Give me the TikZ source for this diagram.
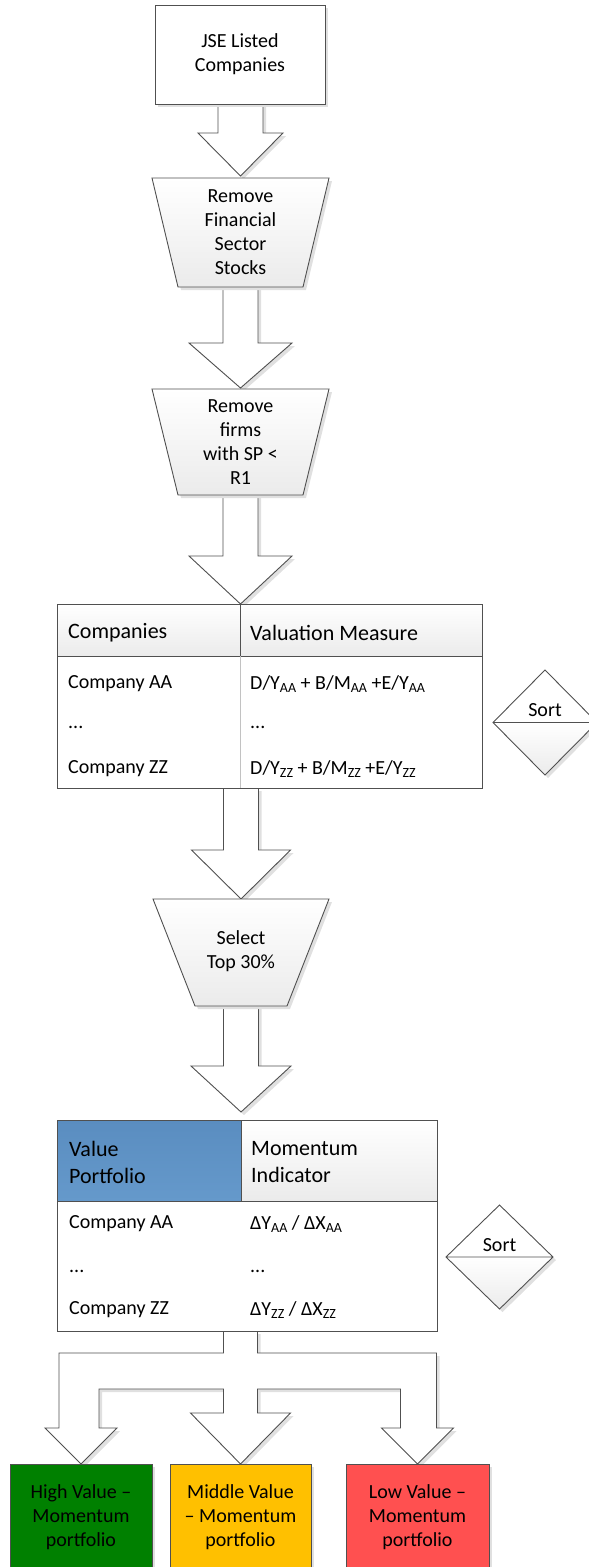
\documentclass[tikz,border=0pt]{standalone}
\usepackage{fontspec}
\setmainfont{Carlito}
\usetikzlibrary{calc,shadows,backgrounds}

\definecolor{edge}{HTML}{505050}
\definecolor{greyend}{HTML}{EBEBEB}
\definecolor{hdrblueA}{HTML}{5A8DC0}
\definecolor{hdrblueB}{HTML}{6599CB}
\definecolor{hvgreen}{HTML}{008000}
\definecolor{mvyellow}{HTML}{FFC000}
\definecolor{lvred}{HTML}{FF5050}

% lowered small index, as in D/Y_AA
\newcommand\lowsub[1]{\raisebox{-0.35ex}{\fontsize{14}{14}\selectfont #1}}

\tikzset{
  softshadow/.style={drop shadow={shadow xshift=3pt, shadow yshift=-3pt, fill=black!12, opacity=1}},
  outline/.style={draw=edge, line width=0.9pt, line join=miter},
  blockarrow/.style={outline, fill=white, softshadow},
  holder/.style={inner sep=0pt, outer sep=0pt},
  bodytext/.style={font=\fontsize{20}{24}\selectfont, align=center, inner sep=0pt},
  headtext/.style={font=\fontsize{22}{27}\selectfont, align=left, inner sep=0pt, anchor=west},
  rowtext/.style={font=\fontsize{20}{24}\selectfont, inner sep=0pt, anchor=west},
  dotstext/.style={font=\fontsize{20}{24}\selectfont, inner sep=0pt, anchor=base west},
  trapshape/.style={outline, top color=white, bottom color=greyend, softshadow},
  gradcell/.style={outline, top color=white, bottom color=greyend},
  portbox/.style={outline, softshadow, bodytext, minimum height=106pt, anchor=north},
}

% hollow block arrow: from (#1) down to the tip (#2);
% #3 shaft half width, #4 head half width, #5 head length
\newcommand\blockarrow[5]{%
  \path[blockarrow] let \p1=(#1), \p2=(#2) in
    (\x2-#3,\y1) -- (\x2-#3,\y2+#5) -- (\x2-#4,\y2+#5) -- (\x2,\y2)
    -- (\x2+#4,\y2+#5) -- (\x2+#3,\y2+#5) -- (\x2+#3,\y1);}

\begin{document}
\begin{tikzpicture}[x=1pt,y=-1pt]
\useasboundingbox (0,0) rectangle (589,1567);
\clip (0,0) rectangle (589,1567);

% ---- source box
\node[holder, outline, fill=white, softshadow, bodytext,
      minimum width=170pt, minimum height=99pt] (jse) at (240,54.5) {JSE Listed\\Companies};

% ---- filter trapezia
\node[holder, minimum width=177pt, minimum height=109pt] (trap1) at (240.5,232.5) {};
\node[holder, minimum width=177pt, minimum height=106pt] (trap2) at (240.5,442) {};
\node[holder, minimum width=176pt, minimum height=107pt] (trap3) at (241,952.5) {};
\path[trapshape] (trap1.north west) -- (trap1.north east) -- ([xshift=-26pt]trap1.south east)
  -- ([xshift=26pt]trap1.south west) -- cycle;
\path[trapshape] (trap2.north west) -- (trap2.north east) -- ([xshift=-26pt]trap2.south east)
  -- ([xshift=26pt]trap2.south west) -- cycle;
\path[trapshape] (trap3.north west) -- (trap3.north east) -- ([xshift=-42pt]trap3.south east)
  -- ([xshift=42pt]trap3.south west) -- cycle;
\node[bodytext] (trap1txt) at (trap1.center) {Remove\\Financial\\Sector\\Stocks};
\node[bodytext] (trap2txt) at (trap2.center) {Remove\\firms\\with SP <\\R1};
\node[bodytext] (trap3txt) at ([yshift=1pt]trap3.center) {Select\\Top 30\%};

% ---- valuation table
\node[holder, outline, fill=white, minimum width=425pt, minimum height=184pt] (tab1) at (269.5,696) {};
\node[holder, gradcell, minimum width=183pt, minimum height=52pt, anchor=north west] (t1hl) at (tab1.north west) {};
\node[holder, gradcell, minimum width=242pt, minimum height=52pt, anchor=north east] (t1hr) at (tab1.north east) {};
\draw[edge!35, line width=0.6pt] (t1hl.south east) -- (t1hl.south east |- tab1.south);
\node[headtext] (t1c) at (68,633) {Companies};
\node[headtext] (t1v) at (250,633) {Valuation Measure};
\node[rowtext] (t1r1a) at (68,684) {Company AA};
\node[rowtext] (t1r1b) at (250,684) {D/Y\lowsub{AA} + B/M\lowsub{AA} +E/Y\lowsub{AA}};
\node[dotstext] (t1r2a) at (68,728) {...};
\node[dotstext] (t1r2b) at (250,728) {...};
\node[rowtext] (t1r3a) at (68,769) {Company ZZ};
\node[rowtext] (t1r3b) at (250,769) {D/Y\lowsub{ZZ} + B/M\lowsub{ZZ} +E/Y\lowsub{ZZ}};

% ---- momentum table
\node[holder, outline, fill=white, minimum width=380pt, minimum height=211pt] (tab2) at (247,1225.5) {};
\node[holder, outline, top color=hdrblueA, bottom color=hdrblueB, minimum width=184pt,
      minimum height=81pt, anchor=north west] (t2hl) at (tab2.north west) {};
\node[holder, gradcell, minimum width=196pt, minimum height=81pt, anchor=north east] (t2hr) at (tab2.north east) {};
\node[headtext] (t2c) at (69,1162.5) {Value\\Portfolio};
\node[headtext] (t2v) at (251,1162.5) {Momentum\\Indicator};
\node[rowtext] (t2r1a) at (69,1224) {Company AA};
\node[rowtext] (t2r1b) at (250,1224) {ΔY\lowsub{AA} / ΔX\lowsub{AA}};
\node[dotstext] (t2r2a) at (69,1272) {...};
\node[dotstext] (t2r2b) at (250,1272) {...};
\node[rowtext] (t2r3a) at (69,1310) {Company ZZ};
\node[rowtext] (t2r3b) at (250,1310) {ΔY\lowsub{ZZ} / ΔX\lowsub{ZZ}};

% ---- sort decisions
\node[holder, minimum width=104pt, minimum height=105pt] (sort1) at (545,722.5) {};
\node[holder, minimum width=107pt, minimum height=104pt] (sort2) at (499.5,1257) {};
\foreach \d in {sort1,sort2}{
  \path[fill=white, softshadow] (\d.north) -- (\d.east) -- (\d.south) -- (\d.west) -- cycle;
  \path[top color=white, bottom color=greyend] (\d.west) -- (\d.east) -- (\d.south) -- cycle;
  \draw[outline] (\d.north) -- (\d.east) -- (\d.south) -- (\d.west) -- cycle
                 (\d.west) -- (\d.east);
}
\node[bodytext] (sort1txt) at ([yshift=12pt]sort1.center) {Sort};
\node[bodytext] (sort2txt) at ([yshift=12pt]sort2.center) {Sort};

% ---- resulting portfolios
\node[portbox, fill=hvgreen, minimum width=142pt] (hv) at (81,1464) {High Value –\\Momentum\\portfolio};
\node[portbox, fill=mvyellow, minimum width=141pt] (mv) at (240.5,1464) {Middle Value\\– Momentum\\portfolio};
\node[portbox, fill=lvred, minimum width=143pt] (lv) at (417.5,1464) {Low Value –\\Momentum\\portfolio};

% ---- block arrows, kept under the shapes
\begin{pgfonlayer}{background}
\blockarrow{jse.south}{[yshift=2pt]trap1.north}{22.5pt}{42.5pt}{43pt}
\blockarrow{trap1.south}{[yshift=1pt]trap2.north}{17.5pt}{51.5pt}{45pt}
\blockarrow{trap2.south}{trap2.south |- tab1.north}{17.5pt}{51.5pt}{48pt}
\blockarrow{tab1.south}{trap3.north}{17.5pt}{49.5pt}{49pt}
\blockarrow{trap3.south}{[yshift=8pt]trap3.south |- tab2.north}{17.5pt}{50pt}{46pt}
% three-way split into the portfolios
\path[blockarrow] let \p1=(tab2.south), \p2=(hv.north), \p3=(mv.north), \p4=(lv.north) in
  (\x3-17pt,\y1) -- (\x3-17pt,\y1-22pt) -- (\x2-22pt,\y1-22pt) -- (\x2-22pt,\y2+36pt)
  -- (\x2-36pt,\y2+36pt) -- (\x2,\y2) -- (\x2+36pt,\y2+36pt) -- (\x2+18pt,\y2+36pt)
  -- (\x2+18pt,\y1-58pt) -- (\x3-17pt,\y1-58pt) -- (\x3-17pt,\y3+51pt)
  -- (\x3-50pt,\y3+51pt) -- (\x3,\y3) -- (\x3+50pt,\y3+51pt) -- (\x3+17pt,\y3+51pt)
  -- (\x3+17pt,\y1-58pt) -- (\x4-17pt,\y1-58pt) -- (\x4-17pt,\y4+36pt)
  -- (\x4-36pt,\y4+36pt) -- (\x4,\y4) -- (\x4+36pt,\y4+36pt) -- (\x4+19pt,\y4+36pt)
  -- (\x4+19pt,\y1-22pt) -- (\x3+17pt,\y1-22pt) -- (\x3+17pt,\y1);
\end{pgfonlayer}
\end{tikzpicture}
\end{document}
